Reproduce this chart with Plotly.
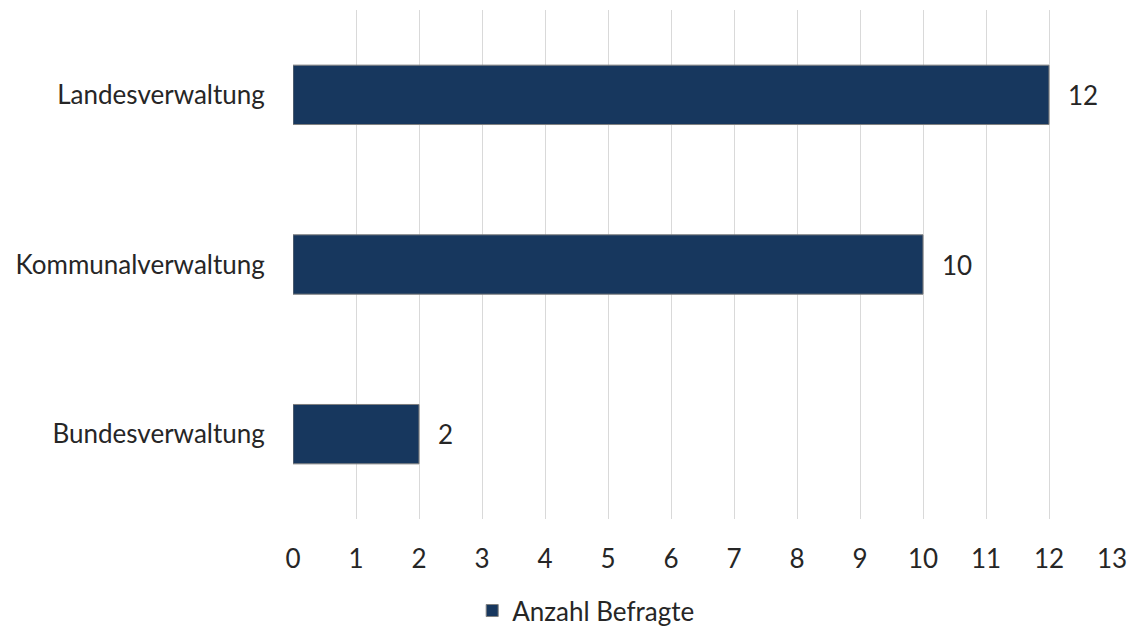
import plotly.graph_objects as go

# Survey respondents by administrative level
categories = ["Bundesverwaltung", "Kommunalverwaltung", "Landesverwaltung"]
respondents = [2, 10, 12]
x_ticks = list(range(0, 14))
series_name = "Anzahl Befragte"

BAR_COLOR = "#17375E"
TEXT_COLOR = "#262626"
FONT = "Lato, 'Open Sans', sans-serif"
FONT_SIZE = 26

fig = go.Figure()
fig.add_trace(go.Bar(
    x=respondents,
    y=categories,
    orientation="h",
    name=series_name,
    width=0.35,
    marker=dict(color=BAR_COLOR, line=dict(color="#7f7f7f", width=1)),
    showlegend=True,
))

# value labels to the right of each bar
for cat, val in zip(categories, respondents):
    fig.add_annotation(
        x=val, y=cat, text=str(val), showarrow=False,
        xanchor="left", xshift=17,
        font=dict(family=FONT, size=FONT_SIZE, color=TEXT_COLOR),
    )

fig.update_layout(
    width=1134, height=632,
    margin=dict(l=293, r=22, t=10, b=113, autoexpand=False),
    paper_bgcolor="white", plot_bgcolor="white",
    font=dict(family=FONT, size=FONT_SIZE, color=TEXT_COLOR),
    bargap=0.65,
    legend=dict(
        orientation="h", xref="paper", yref="paper",
        x=0.358, y=-0.18, xanchor="center", yanchor="middle",
        font=dict(family=FONT, size=FONT_SIZE, color=TEXT_COLOR),
    ),
    xaxis=dict(
        range=[0, 13], tickvals=x_ticks, ticktext=[str(t) for t in x_ticks],
        showgrid=True, gridcolor="#D9D9D9", gridwidth=1,
        zeroline=False, showline=False, automargin=False,
        ticks="outside", ticklen=17, tickcolor="rgba(0,0,0,0)",
    ),
    yaxis=dict(
        range=[-0.5, 2.5], showgrid=False, zeroline=False, showline=False,
        automargin=False,
        ticks="outside", ticklen=22, tickcolor="rgba(0,0,0,0)",
    ),
)

fig.write_html("out.html")
